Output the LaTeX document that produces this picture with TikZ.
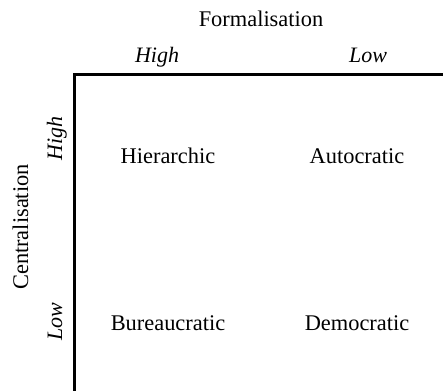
\documentclass[tikz,border=0pt]{standalone}
\usepackage{fontspec}
\setmainfont{Liberation Serif}
\usetikzlibrary{positioning}

\begin{document}
\begin{tikzpicture}[
    x=0.5pt, y=-0.5pt,
    axislabel/.style = {
        font=\fontsize{11.2}{13}\selectfont,
        anchor=base,
        inner sep=0pt
    },
    levellabel/.style = {
        font=\fontsize{11}{13}\selectfont\itshape,
        anchor=base,
        inner sep=0pt
    },
    cell/.style = {
        font=\fontsize{11.2}{13}\selectfont,
        anchor=base,
        inner sep=0pt
    },
    axis/.style = {
        line width=1.4pt,
        draw=black
    }
]

\useasboundingbox (0,0) rectangle (443,390);

\coordinate (corner) at (74.5,74.5);
\coordinate (xend) at (445,74.5);
\coordinate (yend) at (74.5,392);

\node (formal) [axislabel] at (261,27) {Formalisation};
\node (fhigh) [levellabel] at (157,62) {High};
\node (flow) [levellabel] at (368,62) {Low};

\node (central) [axislabel, rotate=90] at (28,227) {Centralisation};
\node (chigh) [levellabel, rotate=90] at (62,138) {High};
\node (clow) [levellabel, rotate=90] at (62,322) {Low};

\node (hier) [cell] at (168,163) {Hierarchic};
\node (auto) [cell] at (357,163) {Autocratic};
\node (bureau) [cell] at (168,330) {Bureaucratic};
\node (demo) [cell] at (357,330) {Democratic};

\draw [axis] (xend) -- (corner) -- (yend);

\end{tikzpicture}
\end{document}
